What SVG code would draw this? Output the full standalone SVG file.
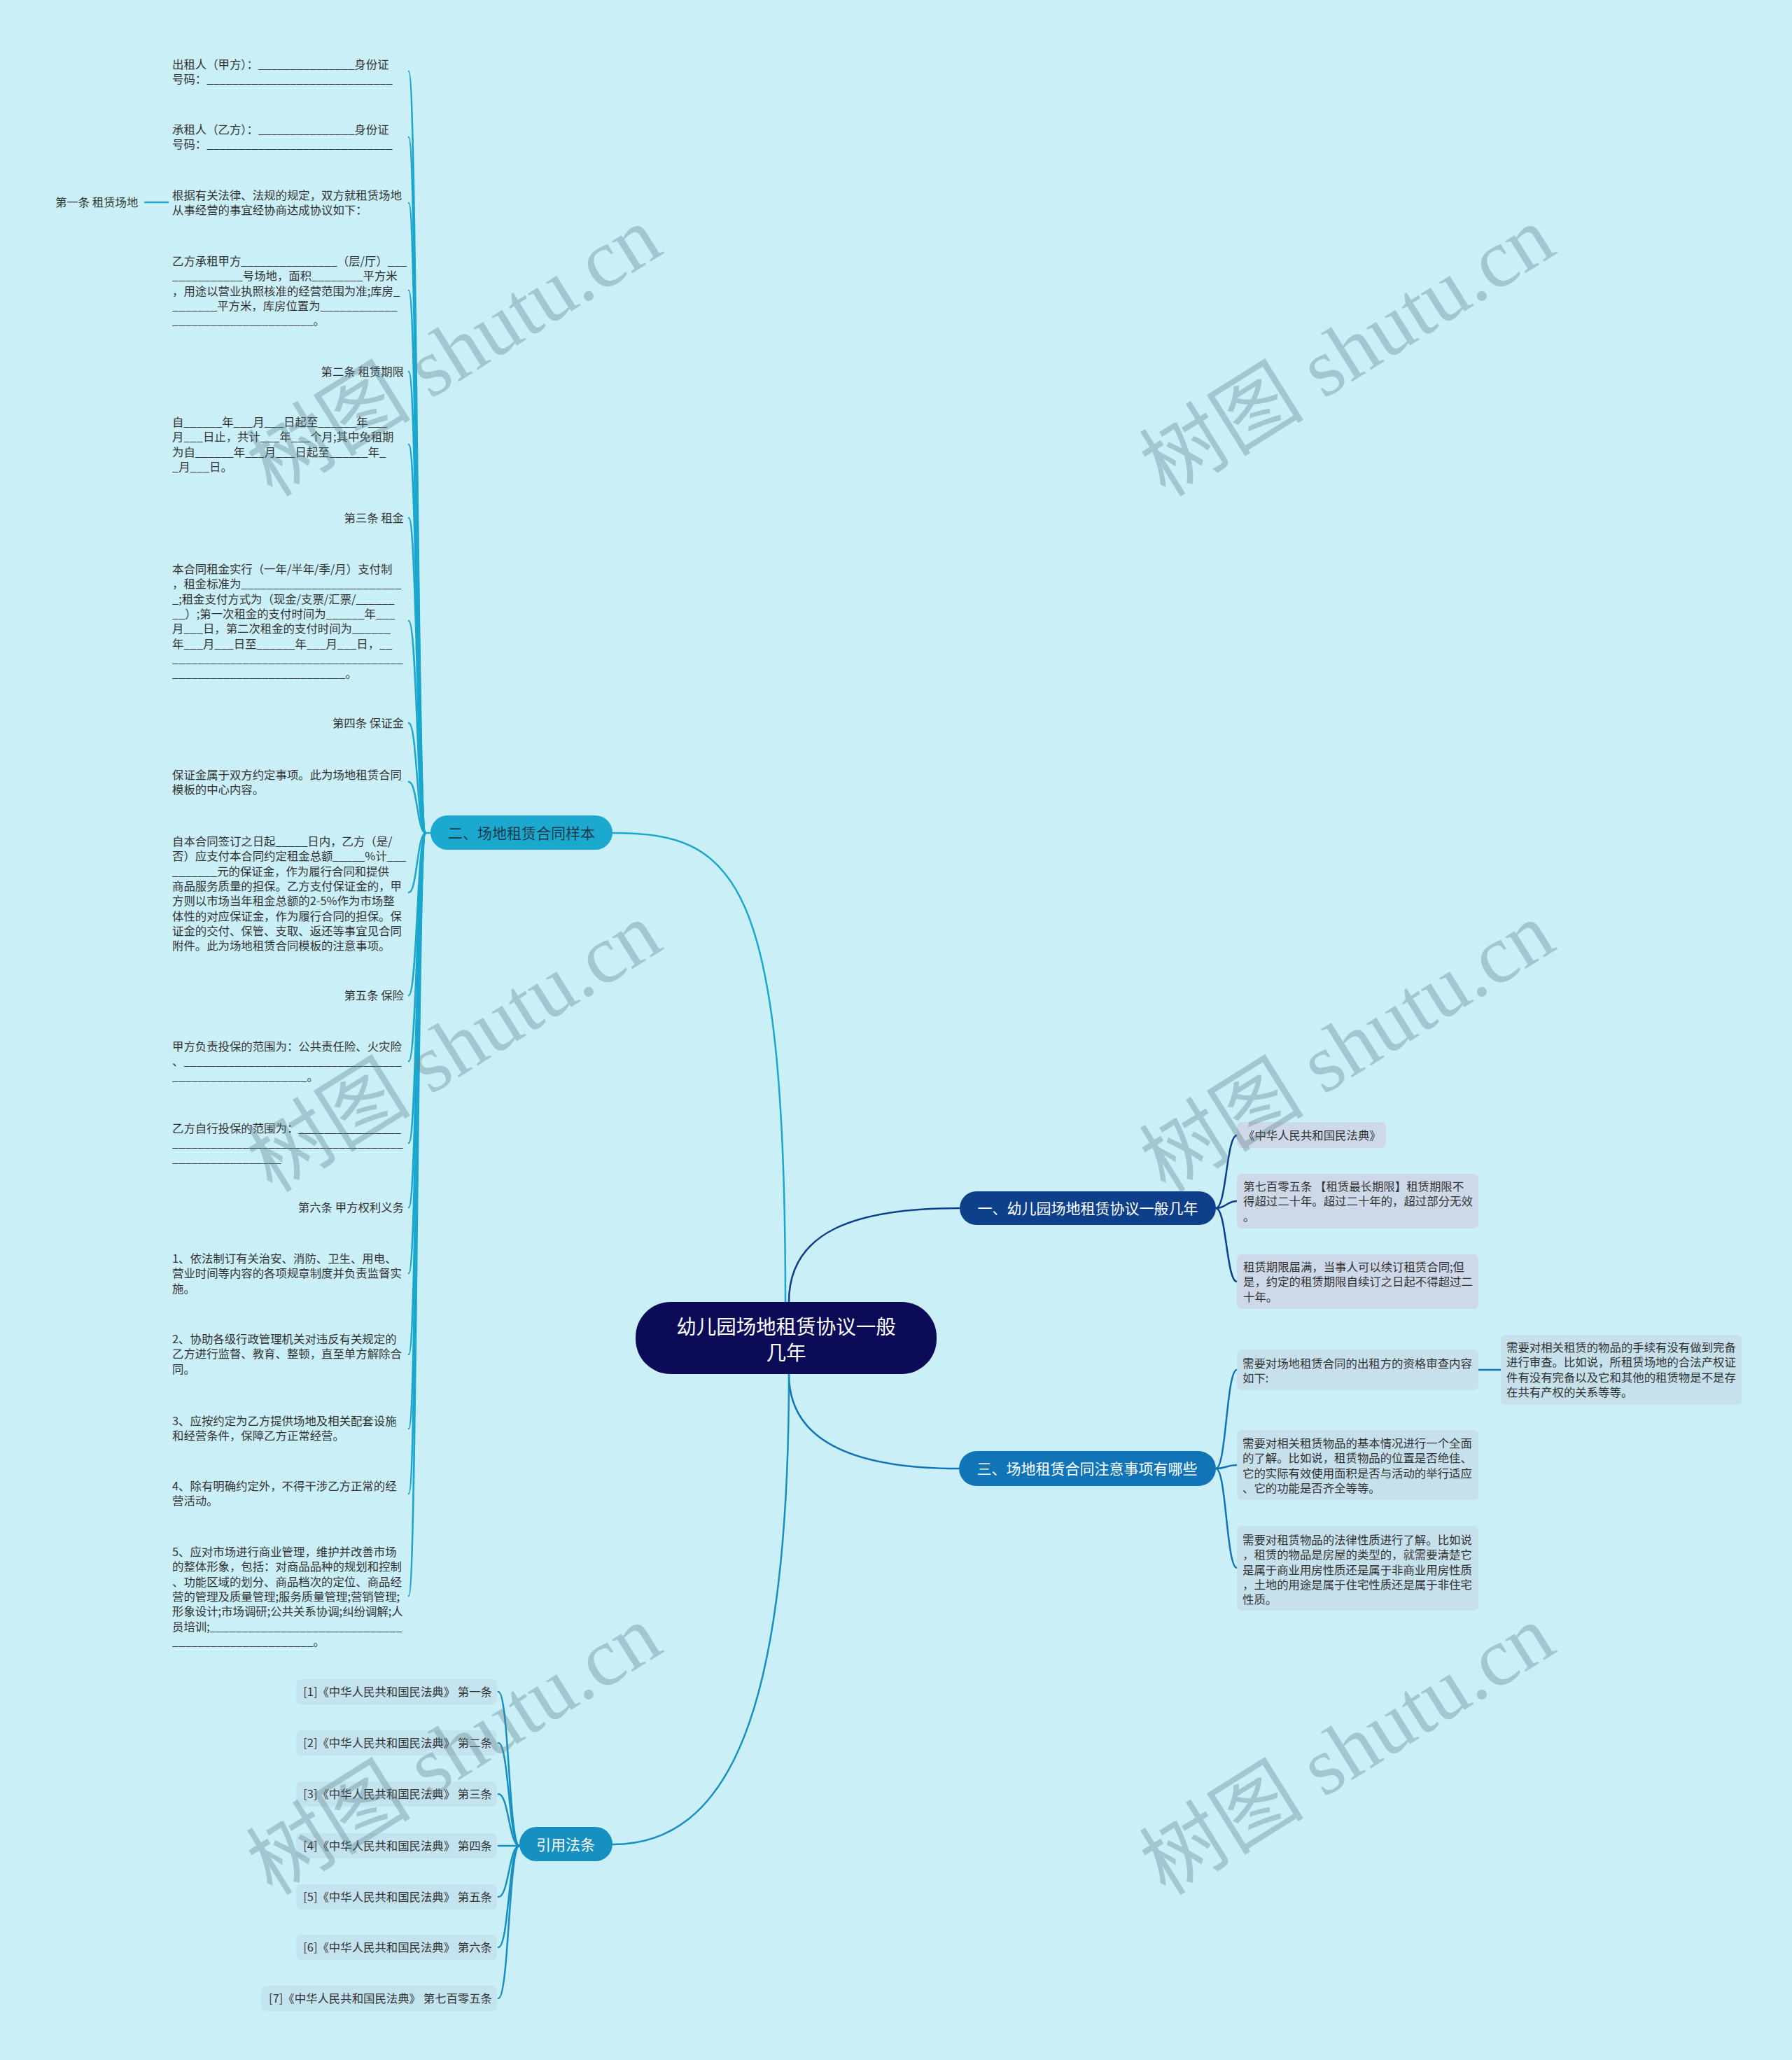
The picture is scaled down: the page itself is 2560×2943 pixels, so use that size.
<svg xmlns="http://www.w3.org/2000/svg" width="2560" height="2943" viewBox="0 0 2560 2943">
<style>
.t{font-family:"Noto Sans CJK SC","Liberation Sans",sans-serif;font-size:16.4px;fill:#333}
.te{text-anchor:end}
.bn{font-family:"Noto Sans CJK SC","Liberation Sans",sans-serif;font-size:21px;text-anchor:middle}
.cn{font-family:"Noto Sans CJK SC","Liberation Sans",sans-serif;font-size:28.5px;fill:#fff;text-anchor:middle}
.c{fill:none;stroke-linecap:round}
.l2{stroke:#1ba7cd;stroke-width:2.5}
.l1{stroke:#0d3f8a;stroke-width:2.5}
.l3{stroke:#1174b6;stroke-width:2.5}
.l4{stroke:#1690c0;stroke-width:2.5}
.b1{fill:#cdd8e8}
.b3{fill:#c6e0ec}
.b4{fill:#c3e3ee}
.wm{font-family:"Liberation Serif","Noto Sans CJK SC",serif;font-size:118px;fill:#5d7f86;fill-opacity:0.35;text-anchor:middle}
</style>
<rect x="0" y="0" width="2560" height="2943" fill="#caeff7"/>

<g id="connectors">
  <path class="c l2" d="M1122,1860 C1122,1250 1050,1190 875,1190"/>
  <path class="c l1" d="M1127,1860 C1127,1760 1220,1726 1370,1726"/>
  <path class="c l3" d="M1127,1963 C1127,2060 1220,2098 1370,2098"/>
  <path class="c l4" d="M1127,1963 C1127,2450 1040,2635 875,2635"/>
  <g class="c l2">
    <path d="M615,1190 L608,1190"/>
    <path d="M608,1190 C596,1190 596,102 584,102"/>
    <path d="M608,1190 C596,1190 596,196 584,196"/>
    <path d="M608,1190 C596,1190 596,290 584,290"/>
    <path d="M608,1190 C596,1190 596,415 584,415"/>
    <path d="M608,1190 C596,1190 596,531 584,531"/>
    <path d="M608,1190 C596,1190 596,635 584,635"/>
    <path d="M608,1190 C596,1190 596,740 584,740"/>
    <path d="M608,1190 C596,1190 596,887 584,887"/>
    <path d="M608,1190 C596,1190 596,1033 584,1033"/>
    <path d="M608,1190 C596,1190 596,1117 584,1117"/>
    <path d="M608,1190 C596,1190 596,1275 584,1275"/>
    <path d="M608,1190 C596,1190 596,1422 584,1422"/>
    <path d="M608,1190 C596,1190 596,1516 584,1516"/>
    <path d="M608,1190 C596,1190 596,1633 584,1633"/>
    <path d="M608,1190 C596,1190 596,1725 584,1725"/>
    <path d="M608,1190 C596,1190 596,1819 584,1819"/>
    <path d="M608,1190 C596,1190 596,1935 584,1935"/>
    <path d="M608,1190 C596,1190 596,2041 584,2041"/>
    <path d="M608,1190 C596,1190 596,2134 584,2134"/>
    <path d="M608,1190 C596,1190 596,2280 584,2280"/>
    <path d="M240,289 L207,289"/>
  </g>
  <g class="c l1">
    <path d="M1737,1726 C1752,1726 1752,1622 1767,1622"/>
    <path d="M1737,1726 C1752,1726 1752,1716 1767,1716"/>
    <path d="M1737,1726 C1752,1726 1752,1831 1767,1831"/>
  </g>
  <g class="c l3">
    <path d="M1737,2098 C1752,2098 1752,1957 1767,1957"/>
    <path d="M1737,2098 C1752,2098 1752,2093 1767,2093"/>
    <path d="M1737,2098 C1752,2098 1752,2240 1767,2240"/>
    <path d="M2112,1957 L2144,1957"/>
  </g>
  <g class="c l4">
    <path d="M742,2637 C727,2637 727,2417 712,2417"/>
    <path d="M742,2637 C727,2637 727,2490 712,2490"/>
    <path d="M742,2637 C727,2637 727,2563 712,2563"/>
    <path d="M742,2637 L712,2637"/>
    <path d="M742,2637 C727,2637 727,2710 712,2710"/>
    <path d="M742,2637 C727,2637 727,2782 712,2782"/>
    <path d="M742,2637 C727,2637 727,2855 712,2855"/>
  </g>
</g>

<g id="center">
  <rect x="908" y="1860" width="430" height="103" rx="50" fill="#0b0b58"/>
  <text class="cn" x="1123" y="1906">幼儿园场地租赁协议一般</text>
  <text class="cn" x="1123" y="1943">几年</text>
</g>

<g id="branch1">
  <rect x="1371" y="1702" width="366" height="48" rx="24" fill="#0d3f8a"/>
  <text class="bn" x="1554" y="1734" fill="#fff">一、幼儿园场地租赁协议一般几年</text>
</g>
<g id="b1c1"><rect class="b1" x="1767" y="1603" width="213" height="37" rx="7"/><text class="t" x="1776" y="1628">《中华人民共和国民法典》</text></g>
<g id="b1c2"><rect class="b1" x="1767" y="1677" width="345" height="78" rx="7"/><text class="t" x="1776" y="1701">第七百零五条 【租赁最长期限】租赁期限不<tspan x="1776" dy="21.3">得超过二十年。超过二十年的，超过部分无效</tspan><tspan x="1776" dy="21.3">。</tspan></text></g>
<g id="b1c3"><rect class="b1" x="1767" y="1792" width="345" height="78" rx="7"/><text class="t" x="1776" y="1816">租赁期限届满，当事人可以续订租赁合同;但<tspan x="1776" dy="21.3">是，约定的租赁期限自续订之日起不得超过二</tspan><tspan x="1776" dy="21.3">十年。</tspan></text></g>

<g id="branch3">
  <rect x="1370" y="2073" width="367" height="50" rx="25" fill="#1174b6"/>
  <text class="bn" x="1553" y="2106" fill="#fff">三、场地租赁合同注意事项有哪些</text>
</g>
<g id="b3c1"><rect class="b3" x="1767" y="1928" width="345" height="58" rx="7"/><text class="t" x="1775" y="1954">需要对场地租赁合同的出租方的资格审查内容<tspan x="1775" dy="21.3">如下:</tspan></text></g>
<g id="b3c1a"><rect class="b3" x="2144" y="1907" width="344" height="100" rx="7"/><text class="t" x="2152" y="1931">需要对相关租赁的物品的手续有没有做到完备<tspan x="2152" dy="21.3">进行审查。比如说，所租赁场地的合法产权证</tspan><tspan x="2152" dy="21.3">件有没有完备以及它和其他的租赁物是不是存</tspan><tspan x="2152" dy="21.3">在共有产权的关系等等。</tspan></text></g>
<g id="b3c2"><rect class="b3" x="1767" y="2043" width="345" height="100" rx="7"/><text class="t" x="1775" y="2068">需要对相关租赁物品的基本情况进行一个全面<tspan x="1775" dy="21.3">的了解。比如说，租赁物品的位置是否绝佳、</tspan><tspan x="1775" dy="21.3">它的实际有效使用面积是否与活动的举行适应</tspan><tspan x="1775" dy="21.3">、它的功能是否齐全等等。</tspan></text></g>
<g id="b3c3"><rect class="b3" x="1767" y="2180" width="345" height="121" rx="7"/><text class="t" x="1775" y="2206">需要对租赁物品的法律性质进行了解。比如说<tspan x="1775" dy="21.3">，租赁的物品是房屋的类型的，就需要清楚它</tspan><tspan x="1775" dy="21.3">是属于商业用房性质还是属于非商业用房性质</tspan><tspan x="1775" dy="21.3">，土地的用途是属于住宅性质还是属于非住宅</tspan><tspan x="1775" dy="21.3">性质。</tspan></text></g>

<g id="branch2">
  <rect x="615" y="1165" width="260" height="49" rx="24.5" fill="#1ba9d0"/>
  <text class="bn" x="745" y="1198" fill="#1d3a4c">二、场地租赁合同样本</text>
</g>
<g id="n1"><text class="t" x="246" y="98">出租人（甲方）：_______________身份证<tspan x="246" dy="21.3">号码：_____________________________</tspan></text></g>
<g id="n2"><text class="t" x="246" y="191">承租人（乙方）：_______________身份证<tspan x="246" dy="21.3">号码：_____________________________</tspan></text></g>
<g id="n3"><text class="t" x="246" y="285">根据有关法律、法规的规定，双方就租赁场地<tspan x="246" dy="21.3">从事经营的事宜经协商达成协议如下：</tspan></text></g>
<g id="n3a"><text class="t" x="79" y="295">第一条 租赁场地</text></g>
<g id="n4"><text class="t" x="246" y="379">乙方承租甲方_______________（层/厅）___<tspan x="246" dy="21.3">___________号场地，面积________平方米</tspan><tspan x="246" dy="21.3">，用途以营业执照核准的经营范围为准;库房_</tspan><tspan x="246" dy="21.3">_______平方米，库房位置为____________</tspan><tspan x="246" dy="21.3">______________________。</tspan></text></g>
<g id="n5"><text class="t te" x="577" y="537">第二条 租赁期限</text></g>
<g id="n6"><text class="t" x="246" y="609">自______年___月___日起至______年___<tspan x="246" dy="21.3">月___日止，共计___年___个月;其中免租期</tspan><tspan x="246" dy="21.3">为自______年___月___日起至______年_</tspan><tspan x="246" dy="21.3">_月___日。</tspan></text></g>
<g id="n7"><text class="t te" x="577" y="746">第三条 租金</text></g>
<g id="n8"><text class="t" x="246" y="819">本合同租金实行（一年/半年/季/月）支付制<tspan x="246" dy="21.3">，租金标准为_________________________</tspan><tspan x="246" dy="21.3">_;租金支付方式为（现金/支票/汇票/______</tspan><tspan x="246" dy="21.3">__）;第一次租金的支付时间为______年___</tspan><tspan x="246" dy="21.3">月___日，第二次租金的支付时间为______</tspan><tspan x="246" dy="21.3">年___月___日至______年___月___日，__</tspan><tspan x="246" dy="21.3">____________________________________</tspan><tspan x="246" dy="21.3">___________________________。</tspan></text></g>
<g id="n9"><text class="t te" x="577" y="1039">第四条 保证金</text></g>
<g id="n10"><text class="t" x="246" y="1113">保证金属于双方约定事项。此为场地租赁合同<tspan x="246" dy="21.3">模板的中心内容。</tspan></text></g>
<g id="n11"><text class="t" x="246" y="1208">自本合同签订之日起_____日内，乙方（是/<tspan x="246" dy="21.3">否）应支付本合同约定租金总额_____%计___</tspan><tspan x="246" dy="21.3">_______元的保证金，作为履行合同和提供</tspan><tspan x="246" dy="21.3">商品服务质量的担保。乙方支付保证金的，甲</tspan><tspan x="246" dy="21.3">方则以市场当年租金总额的2-5%作为市场整</tspan><tspan x="246" dy="21.3">体性的对应保证金，作为履行合同的担保。保</tspan><tspan x="246" dy="21.3">证金的交付、保管、支取、返还等事宜见合同</tspan><tspan x="246" dy="21.3">附件。此为场地租赁合同模板的注意事项。</tspan></text></g>
<g id="n12"><text class="t te" x="577" y="1428">第五条 保险</text></g>
<g id="n13"><text class="t" x="246" y="1501">甲方负责投保的范围为：公共责任险、火灾险<tspan x="246" dy="21.3">、__________________________________</tspan><tspan x="246" dy="21.3">_____________________。</tspan></text></g>
<g id="n14"><text class="t" x="246" y="1618">乙方自行投保的范围为：________________<tspan x="246" dy="21.3">____________________________________</tspan><tspan x="246" dy="21.3">_________________</tspan></text></g>
<g id="n15"><text class="t te" x="577" y="1731">第六条 甲方权利义务</text></g>
<g id="n16"><text class="t" x="246" y="1804">1、依法制订有关治安、消防、卫生、用电、<tspan x="246" dy="21.3">营业时间等内容的各项规章制度并负责监督实</tspan><tspan x="246" dy="21.3">施。</tspan></text></g>
<g id="n17"><text class="t" x="246" y="1919">2、协助各级行政管理机关对违反有关规定的<tspan x="246" dy="21.3">乙方进行监督、教育、整顿，直至单方解除合</tspan><tspan x="246" dy="21.3">同。</tspan></text></g>
<g id="n18"><text class="t" x="246" y="2036">3、应按约定为乙方提供场地及相关配套设施<tspan x="246" dy="21.3">和经营条件，保障乙方正常经营。</tspan></text></g>
<g id="n19"><text class="t" x="246" y="2129">4、除有明确约定外，不得干涉乙方正常的经<tspan x="246" dy="21.3">营活动。</tspan></text></g>
<g id="n20"><text class="t" x="246" y="2223">5、应对市场进行商业管理，维护并改善市场<tspan x="246" dy="21.3">的整体形象，包括：对商品品种的规划和控制</tspan><tspan x="246" dy="21.3">、功能区域的划分、商品档次的定位、商品经</tspan><tspan x="246" dy="21.3">营的管理及质量管理;服务质量管理;营销管理;</tspan><tspan x="246" dy="21.3">形象设计;市场调研;公共关系协调;纠纷调解;人</tspan><tspan x="246" dy="21.3">员培训;______________________________</tspan><tspan x="246" dy="21.3">______________________。</tspan></text></g>

<g id="branch4">
  <rect x="742" y="2610" width="133" height="49" rx="24.5" fill="#1690c0"/>
  <text class="bn" x="808" y="2643" fill="#fff">引用法条</text>
</g>
<g id="r1"><rect class="b4" x="423" y="2399" width="287" height="36" rx="7"/><text class="t te" x="703" y="2423">[1]《中华人民共和国民法典》 第一条</text></g>
<g id="r2"><rect class="b4" x="423" y="2472" width="287" height="36" rx="7"/><text class="t te" x="703" y="2496">[2]《中华人民共和国民法典》 第二条</text></g>
<g id="r3"><rect class="b4" x="423" y="2545" width="287" height="36" rx="7"/><text class="t te" x="703" y="2569">[3]《中华人民共和国民法典》 第三条</text></g>
<g id="r4"><rect class="b4" x="423" y="2619" width="287" height="36" rx="7"/><text class="t te" x="703" y="2643">[4]《中华人民共和国民法典》 第四条</text></g>
<g id="r5"><rect class="b4" x="423" y="2692" width="287" height="36" rx="7"/><text class="t te" x="703" y="2716">[5]《中华人民共和国民法典》 第五条</text></g>
<g id="r6"><rect class="b4" x="423" y="2764" width="287" height="36" rx="7"/><text class="t te" x="703" y="2788">[6]《中华人民共和国民法典》 第六条</text></g>
<g id="r7"><rect class="b4" x="373" y="2837" width="337" height="36" rx="7"/><text class="t te" x="703" y="2861">[7]《中华人民共和国民法典》 第七百零五条</text></g>

<g id="watermarks">
  <text class="wm" transform="translate(670,536) rotate(-32)">树图 shutu.cn</text>
  <text class="wm" transform="translate(1946,536) rotate(-32)">树图 shutu.cn</text>
  <text class="wm" transform="translate(670,1530) rotate(-32)">树图 shutu.cn</text>
  <text class="wm" transform="translate(1946,1530) rotate(-32)">树图 shutu.cn</text>
  <text class="wm" transform="translate(670,2534) rotate(-32)">树图 shutu.cn</text>
  <text class="wm" transform="translate(1946,2534) rotate(-32)">树图 shutu.cn</text>
</g>
</svg>
